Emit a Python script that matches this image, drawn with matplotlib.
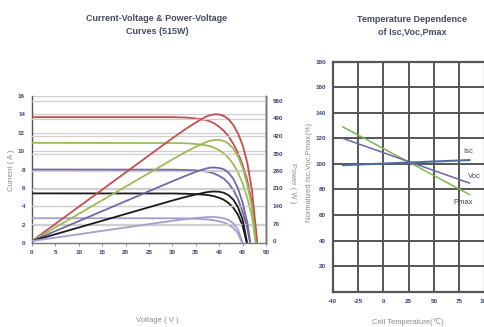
import matplotlib
matplotlib.use("Agg")
import matplotlib.pyplot as plt

plt.rcParams['font.family'] = ['Liberation Sans', 'DejaVu Sans']

# ---------------- Data: IV / PV curves (515W) ----------------
curve_colors = ['#c0504d', '#9bbb59', '#7566a8', '#1a1a1a', '#a59ccf']

v_red = [0, 30, 33, 35, 37, 38, 39, 40, 41, 42, 43, 44, 45, 46, 47, 48.1]
i_red = [13.7, 13.7, 13.65, 13.55, 13.4, 13.25, 13.0, 12.65, 12.2, 11.6, 10.8, 9.8, 8.5, 6.8, 4.3, 0]
p_red = [0, 411, 450, 474, 496, 503, 507, 506, 500, 487, 464, 431, 383, 313, 202, 0]

v_green = [0, 30, 33, 35, 37, 38, 39, 40, 41, 42, 43, 44, 45, 46, 47, 47.8]
i_green = [10.9, 10.88, 10.85, 10.78, 10.65, 10.55, 10.35, 10.1, 9.75, 9.25, 8.6, 7.7, 6.5, 4.9, 2.9, 0]
p_green = [0, 326, 358, 377, 394, 401, 404, 404, 400, 389, 370, 339, 293, 225, 136, 0]

v_purple = [0, 30, 33, 35, 37, 38, 39, 40, 41, 42, 43, 44, 45, 46, 46.6]
i_purple = [8.0, 7.98, 7.95, 7.9, 7.8, 7.7, 7.55, 7.3, 7.0, 6.5, 5.8, 4.8, 3.4, 1.6, 0]
p_purple = [0, 239, 262, 277, 289, 293, 294, 292, 287, 273, 249, 211, 153, 74, 0]

v_black = [0, 30, 33, 35, 37, 38, 39, 40, 41, 42, 43, 44, 45, 45.9]
i_black = [5.4, 5.39, 5.36, 5.32, 5.25, 5.18, 5.08, 4.92, 4.7, 4.35, 3.85, 3.1, 1.9, 0]
p_black = [0, 162, 177, 186, 194, 197, 198, 197, 193, 183, 166, 136, 86, 0]

v_lav = [0, 30, 33, 35, 37, 38, 39, 40, 41, 42, 43, 44, 44.9]
i_lav = [2.7, 2.69, 2.67, 2.64, 2.58, 2.53, 2.46, 2.36, 2.22, 2.0, 1.65, 1.05, 0]
p_lav = [0, 81, 88, 92, 95, 96, 96, 94, 91, 84, 71, 46, 0]

volt_ticks = [0, 5, 10, 15, 20, 25, 30, 35, 40, 45, 50]
current_ticks = [0, 2, 4, 6, 8, 10, 12, 14, 16]
power_ticks = [0, 70, 140, 210, 280, 350, 420, 490, 560]

# ---------------- Data: temperature dependence ----------------
temp_pos = [-50, -25, 0, 25, 50, 75, 100]
temp_labels = ['-40', '-25', '0', '25', '50', '75', '100']
norm_ticks = [20, 40, 60, 80, 100, 120, 140, 160, 180]
temp_line = [-40, 85]
isc_vals = [99, 103]
voc_vals = [120, 85]
pmax_vals = [129, 76]

tick_color = '#3a3f7a'
label_color = '#8a8a8a'
title_color = '#454b5e'

fig = plt.figure(figsize=(4.85, 3.27), dpi=100)

# ---------------- Left chart ----------------
ax = fig.add_axes([32/485, 1-243/327, 234/485, 147/327])
ax2 = ax.twinx()
ax.set_xlim(0, 50)
ax.set_ylim(0, 16)
ax2.set_ylim(-8, 580)

for y in current_ticks[1:]:
    ax.axhline(y, color='#cfcfcf', lw=0.9, zorder=0)
for y in power_ticks[1:]:
    ax2.axhline(y, color='#cfcfcf', lw=0.9, zorder=0)

iv = [(v_red, i_red, p_red), (v_green, i_green, p_green), (v_purple, i_purple, p_purple),
      (v_black, i_black, p_black), (v_lav, i_lav, p_lav)]
for (v, i, p), c in zip(iv, curve_colors):
    ax.plot(v, i, color=c, lw=1.3, zorder=3, solid_joinstyle='round')
    ax2.plot(v, p, color=c, lw=1.3, zorder=3, solid_joinstyle='round')

ax.set_xticks(volt_ticks)
ax.set_yticks(current_ticks)
ax2.set_yticks(power_ticks)
for a in (ax, ax2):
    a.tick_params(labelsize=4.5, colors='#888888', length=2, width=0.6, pad=3)
    for lab in a.get_xticklabels() + a.get_yticklabels():
        lab.set_color(tick_color)
        lab.set_fontweight('bold')
ax2.tick_params(axis='y', length=0, pad=5)
ax.tick_params(axis='y', length=0, pad=5)
ax.spines['top'].set_visible(False)
ax2.spines['top'].set_visible(False)
ax.spines['left'].set_color('#555555')
ax.spines['bottom'].set_color('#777777')
ax2.spines['right'].set_color('#777777')
ax2.spines['left'].set_visible(False)
ax2.spines['bottom'].set_visible(False)
for s in ('left', 'bottom', 'right'):
    ax.spines[s].set_linewidth(1.0)
    ax2.spines[s].set_linewidth(1.0)

fig.text(12/485, 1-170/327, 'Current ( A )', rotation=90, ha='center', va='center',
         fontsize=5.5, color=label_color)
fig.text(293/485, 1-183/327, 'Power ( W )', rotation=270, ha='center', va='center',
         fontsize=5.5, color=label_color)
fig.text(157/485, 1-321/327, 'Voltage ( V )', ha='center', va='center',
         fontsize=5.5, color=label_color)
fig.text(157/485, 1-25/327, 'Current-Voltage & Power-Voltage\nCurves (515W)', ha='center',
         va='center', fontsize=6.5, fontweight='bold', color=title_color, linespacing=1.5)

# ---------------- Right chart ----------------
bx = fig.add_axes([332.7/485, 1-291.7/327, 152/485, 230/327])
bx.set_xlim(-50, 100)
bx.set_ylim(0, 180)
bx.set_xticks(temp_pos)
bx.set_xticklabels(temp_labels)
bx.set_yticks(norm_ticks)
bx.grid(True, color='#555555', lw=1.4, zorder=0)
for s in bx.spines.values():
    s.set_color('#555555')
    s.set_linewidth(1.6)
bx.tick_params(labelsize=4.5, length=0, pad=5)
for lab in bx.get_xticklabels() + bx.get_yticklabels():
    lab.set_color(tick_color)
    lab.set_fontweight('bold')

bx.plot(temp_line, pmax_vals, color='#7cb854', lw=1.1, zorder=3)
bx.plot(temp_line, voc_vals, color='#6a64a8', lw=1.1, zorder=3)
bx.plot(temp_line, isc_vals, color='#4f6d9a', lw=1.5, zorder=4)

txt_kw = dict(fontsize=5.5, color='#40465e', ha='center', va='center')
fig.text(468/485, 1-152/327, 'Isc', **txt_kw)
fig.text(474/485, 1-177/327, 'Voc', **txt_kw)
fig.text(463/485, 1-202/327, 'Pmax', **txt_kw)

fig.text(310/485, 1-172/327, 'Normalized Isc,Voc,Pmax(%)', rotation=90, ha='center',
         va='center', fontsize=5.5, color=label_color)
fig.text(408/485, 1-322/327, 'Cell Temperature(℃)', ha='center', va='center',
         fontsize=5.5, color=label_color)
fig.text(412/485, 1-26/327, 'Temperature Dependence\nof Isc,Voc,Pmax', ha='center',
         va='center', fontsize=6.5, fontweight='bold', color=title_color, linespacing=1.5)

fig.savefig('out.png', dpi=100)
